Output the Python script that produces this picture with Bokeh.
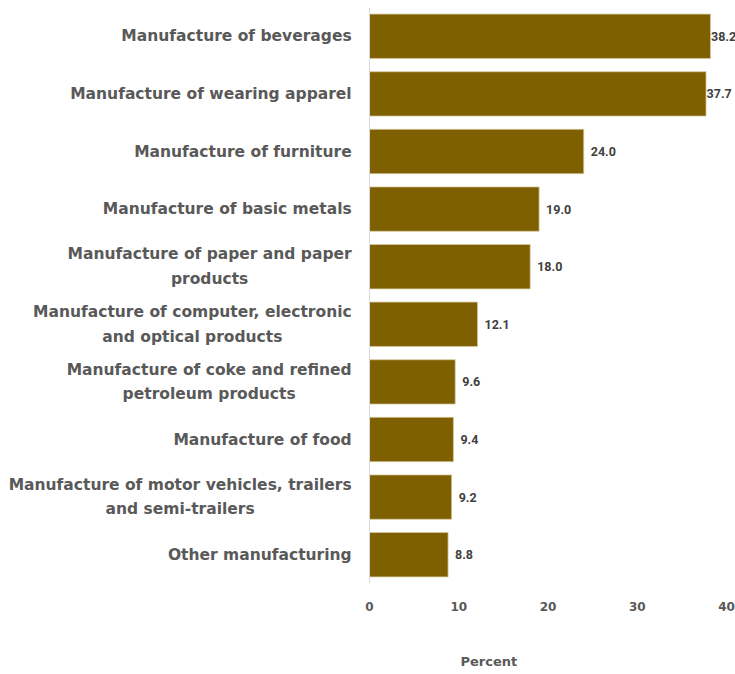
from bokeh.plotting import figure
from bokeh.models import Range1d, FactorRange, Span, Title, FixedTicker, ColumnDataSource
from bokeh.core.properties import value
from bokeh.embed import file_html
from bokeh.resources import INLINE

categories = [
    "Manufacture of beverages",
    "Manufacture of wearing apparel",
    "Manufacture of furniture",
    "Manufacture of basic metals",
    "Manufacture of paper and paper products",
    "Manufacture of computer, electronic and optical products",
    "Manufacture of coke and refined petroleum products",
    "Manufacture of food",
    "Manufacture of motor vehicles, trailers and semi-trailers",
    "Other manufacturing",
]
category_labels = [
    "Manufacture of beverages",
    "Manufacture of wearing apparel",
    "Manufacture of furniture",
    "Manufacture of basic metals",
    "Manufacture of paper and paper\nproducts",
    "Manufacture of computer, electronic\nand optical products",
    "Manufacture of coke and refined\npetroleum products",
    "Manufacture of food",
    "Manufacture of motor vehicles, trailers\nand semi-trailers",
    "Other manufacturing",
]
values = [38.2, 37.7, 24.0, 19.0, 18.0, 12.1, 9.6, 9.4, 9.2, 8.8]
x_ticks = [0, 10, 20, 30, 40]
axis_title = "Percent"

BAR = "#7F6000"
GREY = "#595959"

source = ColumnDataSource(dict(
    cat=categories,
    lab=category_labels,
    val=values,
    txt=[f"{v:.1f}" for v in values],
    off=[0.5 if v > 35 else 7 for v in values],
))

p = figure(
    width=735, height=674,
    x_range=Range1d(-41.34, 41.0),
    y_range=FactorRange(factors=list(reversed(categories)), range_padding=0),
    output_backend="svg", toolbar_location=None,
    min_border_left=0, min_border_right=0, min_border_top=7, min_border_bottom=91,
)
p.outline_line_color = None
p.grid.visible = False
p.yaxis.visible = False

p.hbar(y="cat", left=0, right="val", height=0.77, source=source,
       fill_color=BAR, line_color="#d6c99f", line_width=0.75)

p.add_layout(Span(location=0, dimension="height", line_color="#d9d9d9", line_width=1))

p.text(x=-2.0, y="cat", text="lab", source=source,
       anchor=value("center_right"), text_align="center", text_baseline="middle",
       text_font=value("DejaVu Sans"), text_font_style="bold", text_font_size="15.5px",
       text_color=GREY, text_line_height=1.36)

p.text(x="val", y="cat", text="txt", x_offset="off", source=source,
       text_align="left", text_baseline="middle",
       text_font=value("Roboto"), text_font_style="bold",
       text_font_size="12.5px", text_color="#404040")

xa = p.xaxis[0]
xa.ticker = FixedTicker(ticks=x_ticks)
xa.axis_line_color = None
xa.major_tick_line_color = None
xa.minor_tick_line_color = None
xa.major_label_standoff = 12
xa.major_label_text_font = "DejaVu Sans"
xa.major_label_text_font_style = "bold"
xa.major_label_text_font_size = "12px"
xa.major_label_text_color = GREY

# leading blank lines push the axis title down within its panel
p.add_layout(Title(text="\n\n" + axis_title, align="left", offset=460, standoff=0,
                   text_font="DejaVu Sans", text_font_style="bold",
                   text_font_size="13px", text_color=GREY,
                   text_line_height=1.25), "below")

open("out.html", "w").write(file_html(p, INLINE))
